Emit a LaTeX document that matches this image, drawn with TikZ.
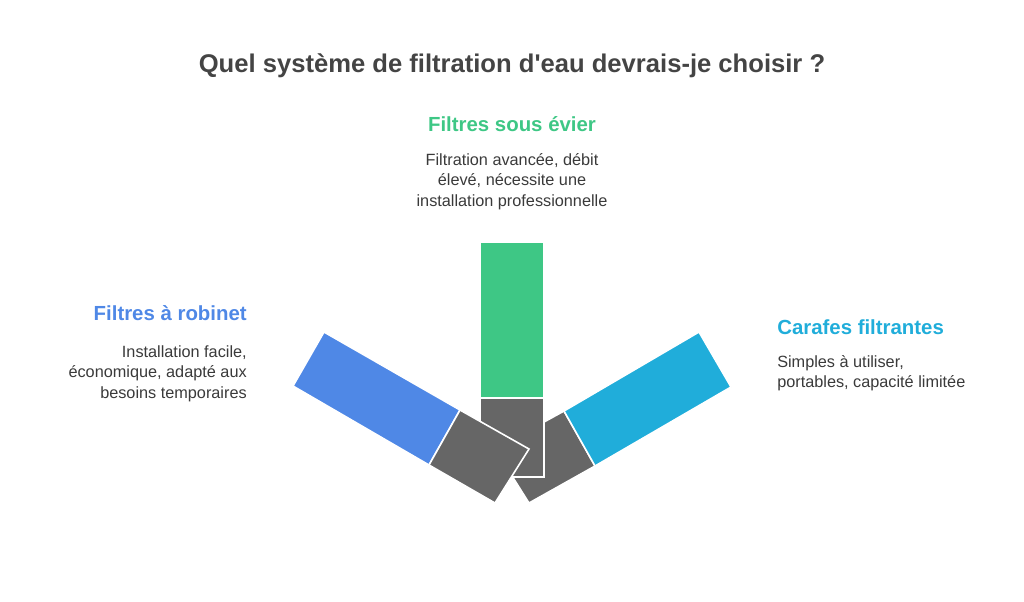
\documentclass[tikz,border=0pt]{standalone}
\usepackage{fontspec}
\setmainfont{Liberation Sans}[Ligatures=TeXOff]
\definecolor{tgrey}{HTML}{444444}
\definecolor{bgrey}{HTML}{666666}
\definecolor{cgreen}{HTML}{3EC785}
\definecolor{cblue}{HTML}{4F88E6}
\definecolor{ccyan}{HTML}{20ADDA}
\begin{document}
\begin{tikzpicture}[x=0.75pt,y=-0.75pt,
  seg/.style={draw=white,line width=1.2pt,line join=miter},
  head/.style={font=\bfseries\fontsize{15.3}{17}\selectfont,inner sep=0pt},
  body/.style={font=\fontsize{12.2}{15.5}\selectfont,text=tgrey!85!black,inner sep=0pt}]
\useasboundingbox (0,0) rectangle (1024,601);
\node[font=\bfseries\fontsize{19.2}{22}\selectfont,text=tgrey] (title) at (512,66) {Quel système de filtration d'eau devrais-je choisir ?};
% shapes
\fill[seg,fill=bgrey] (564,411) -- (595,466) -- (529,503) -- (495,449) -- cycle;
\fill[seg,fill=cgreen] (480,242) rectangle (544,398);
\fill[seg,fill=bgrey] (480,398) rectangle (544,477);
\fill[seg,fill=cblue] (324,332) -- (293,386) -- (429,465) -- (460,410) -- cycle;
\fill[seg,fill=bgrey] (460,410) -- (429,465) -- (495,503) -- (529,449) -- cycle;
\fill[seg,fill=ccyan] (699,332) -- (731,387) -- (595,466) -- (564,411) -- cycle;
% texts
\node[head,text=cgreen] (h1) at (512,124) {Filtres sous évier};
\node[body,align=center,anchor=north] (b1) at (512,153) {Filtration avancée, débit\\élevé, nécessite une\\installation professionnelle};
\node[head,text=cblue,anchor=east] (h2) at (247,313) {Filtres à robinet};
\node[body,align=right,anchor=north east] (b2) at (247,345) {Installation facile,\\économique, adapté aux\\besoins temporaires};
\node[head,text=ccyan,anchor=west] (h3) at (777,327) {Carafes filtrantes};
\node[body,align=left,anchor=north west] (b3) at (777,355) {Simples à utiliser,\\portables, capacité limitée};
\end{tikzpicture}
\end{document}
